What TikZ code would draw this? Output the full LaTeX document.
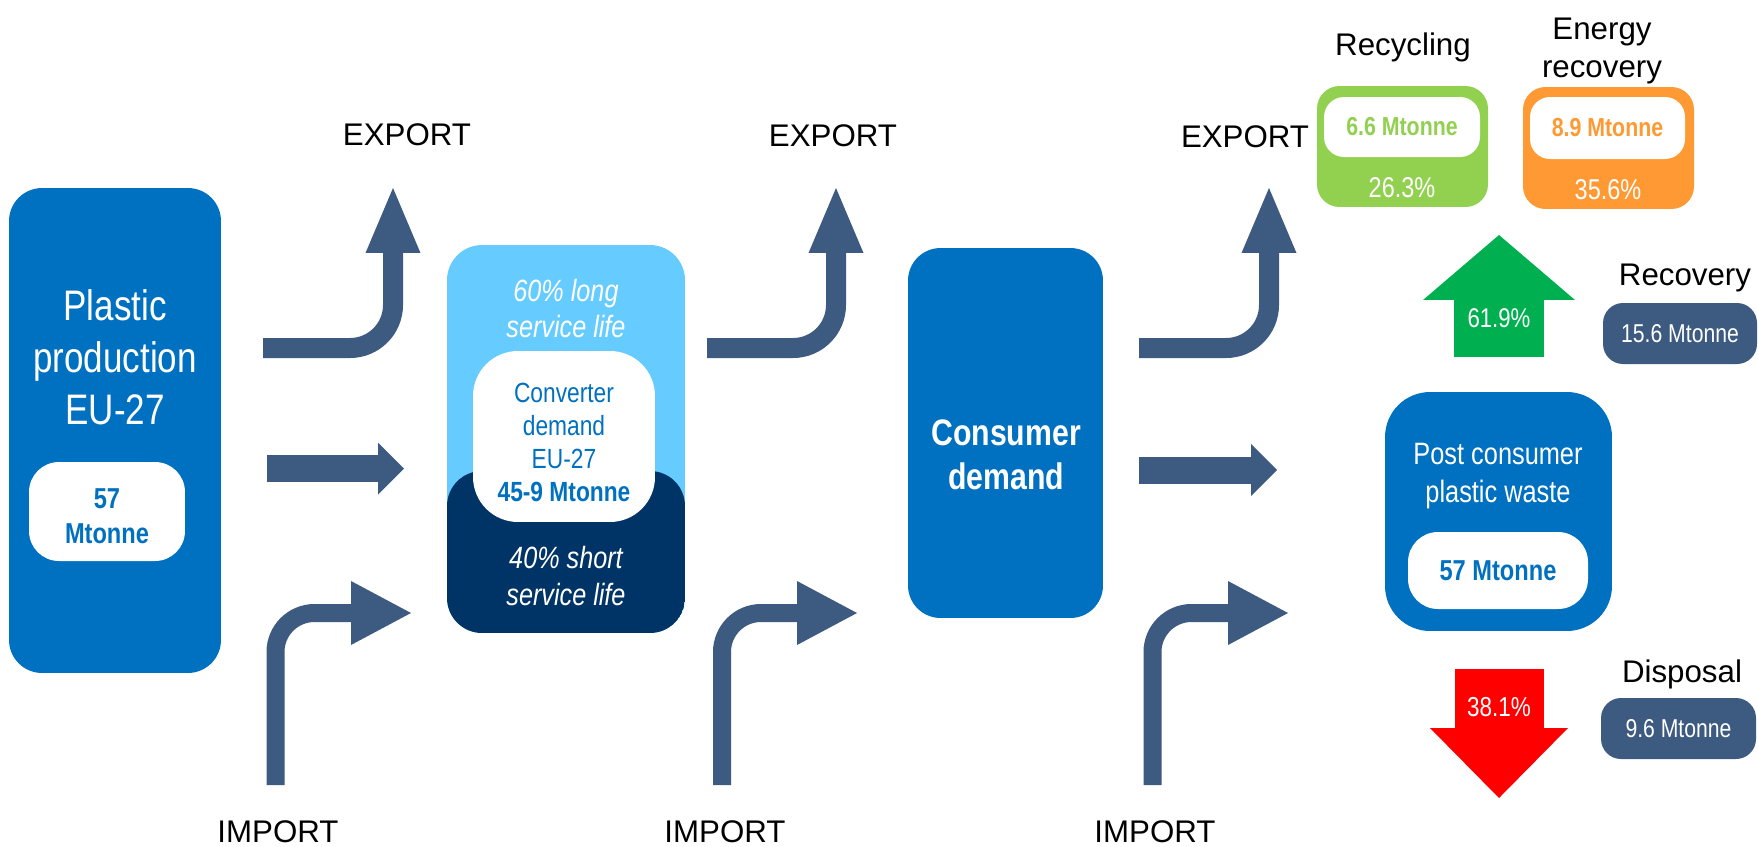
\documentclass[tikz,border=0pt]{standalone}
\usepackage{fontspec}
\setmainfont{Liberation Sans}
\newfontfamily\estreita[FakeStretch=0.82]{Liberation Sans}
\usetikzlibrary{arrows.meta}

\definecolor{azul}{HTML}{0070C0}
\definecolor{celeste}{HTML}{66CCFF}
\definecolor{marinho}{HTML}{003366}
\definecolor{ardosia}{HTML}{3D5B80}
\definecolor{verdeclaro}{HTML}{92D050}
\definecolor{laranja}{HTML}{FF9933}
\definecolor{verde}{HTML}{00B050}
\definecolor{vermelho}{HTML}{FF0000}

\newcommand{\tam}[2]{\fontsize{#1}{#2}\selectfont}

\begin{document}
\begin{tikzpicture}[x=0.02cm,y=-0.02cm,
caixa/.style={rectangle,inner sep=0pt,fill=azul,text=white},
valor/.style={rectangle,inner sep=0pt,fill=white,text=azul},
rotulo/.style={align=center,font={\tam{17.8pt}{21.2pt}}},
texto/.style={text=white,align=center},
exporta/.style={draw=ardosia,line width=0.4cm,rounded corners=0.86cm,
-{Triangle[length=1.3cm,width=1.1cm,line width=0pt]}},
importa/.style={draw=ardosia,line width=0.36cm,rounded corners=0.78cm,
-{Triangle[length=1.2cm,width=1.28cm,line width=0pt]}},
segue/.style={draw=ardosia,line width=0.54cm,
-{Triangle[length=0.52cm,width=1.04cm,line width=0pt]}}
]
\useasboundingbox (0,0) rectangle (1758,846);

% producao
\node[caixa,rounded corners=0.66cm,minimum width=4.24cm,minimum height=9.7cm] (prod) at (115,430.5) {};
\node[texto,font={\estreita\tam{24.3pt}{29.5pt}}] (prodtxt) at (115,357) {Plastic\\production\\EU-27};
\node[valor,rounded corners=0.6cm,minimum width=3.12cm,minimum height=1.98cm] (prodval) at (107,511.5) {};
\node[text=azul,align=center,font={\estreita\bfseries\tam{16.4pt}{19.8pt}}] (prodnum) at (107,516.5) {57\\Mtonne};

% conversores
\node[caixa,fill=celeste,rounded corners=0.7cm,minimum width=4.76cm,minimum height=7.76cm,
path picture={\fill[marinho] ([yshift=3.24cm]path picture bounding box.south west) rectangle (path picture bounding box.south east);}] (conv) at (566,439) {};
\node[texto,font={\estreita\itshape\tam{17.5pt}{21pt}}] (longa) at (566,308.5) {60\% long\\service life};
\node[valor,rounded corners=0.9cm,minimum width=3.64cm,minimum height=3.42cm] (convval) at (564,436.5) {};
\node[text=azul,align=center,font={\estreita\tam{15.8pt}{18.9pt}}] (convtxt) at (564,442.5) {Converter\\demand\\EU-27\\{\bfseries 45-9 Mtonne}};
\node[texto,font={\estreita\itshape\tam{17.5pt}{21pt}}] (curta) at (566,576) {40\% short\\service life};

% consumo
\node[caixa,rounded corners=0.65cm,minimum width=3.9cm,minimum height=7.4cm] (cons) at (1005.5,433) {};
\node[texto,font={\estreita\bfseries\tam{21pt}{25pt}}] (constxt) at (1006,455) {Consumer\\demand};

% residuos
\node[caixa,rounded corners=0.9cm,minimum width=4.54cm,minimum height=4.78cm] (pos) at (1498.5,511.5) {};
\node[texto,font={\estreita\tam{17.6pt}{21.5pt}}] (postxt) at (1498,476) {Post consumer\\plastic waste};
\node[valor,rounded corners=0.6cm,minimum width=3.6cm,minimum height=1.54cm,
font={\estreita\bfseries\tam{16.4pt}{19.8pt}}] (posval) at (1498,570.5) {57 Mtonne};

% reciclagem e energia
\node[caixa,fill=verdeclaro,rounded corners=0.45cm,minimum width=3.42cm,minimum height=2.42cm] (recic) at (1402.5,146.5) {};
\node[valor,text=verdeclaro,rounded corners=0.4cm,minimum width=3.12cm,minimum height=1.2cm,
font={\estreita\bfseries\tam{14.8pt}{17pt}}] (recicval) at (1402,127) {6.6 Mtonne};
\node[texto,font={\estreita\tam{16.3pt}{18pt}}] (recicpct) at (1402,188) {26.3\%};
\node[rotulo] (recictit) at (1403,47) {Recycling};

\node[caixa,fill=laranja,rounded corners=0.45cm,minimum width=3.42cm,minimum height=2.44cm] (ener) at (1608.5,148) {};
\node[valor,text=laranja,rounded corners=0.4cm,minimum width=3.1cm,minimum height=1.24cm,
font={\estreita\bfseries\tam{14.8pt}{17pt}}] (enerval) at (1607.5,128) {8.9 Mtonne};
\node[texto,font={\estreita\tam{16.3pt}{18pt}}] (enerpct) at (1608,190) {35.6\%};
\node[rotulo] (enertit) at (1602,51) {Energy\\recovery};

% recuperacao e descarte
\coordinate (sobebase) at (1499,357);
\coordinate (sobeponta) at (1499,235);
\draw[draw=verde,line width=1.8cm,-{Triangle[length=1.3cm,width=3.04cm,line width=0pt]}] (sobebase) -- (sobeponta);
\node[texto,font={\estreita\tam{15.4pt}{18pt}}] (recpct) at (1499,318) {61.9\%};

\coordinate (descebase) at (1499,669);
\coordinate (desceponta) at (1499,798);
\draw[draw=vermelho,line width=1.78cm,-{Triangle[length=1.4cm,width=2.76cm,line width=0pt]}] (descebase) -- (desceponta);
\node[texto,font={\estreita\tam{15.6pt}{18pt}}] (descpct) at (1499,707) {38.1\%};

\node[rotulo] (rectit) at (1685,278) {Recovery};
\node[caixa,fill=ardosia,rounded corners=0.4cm,minimum width=3.08cm,minimum height=1.22cm,
font={\estreita\tam{14.7pt}{17pt}}] (recval) at (1680,333.5) {15.6 Mtonne};
\node[rotulo] (desctit) at (1682,674) {Disposal};
\node[caixa,fill=ardosia,rounded corners=0.4cm,minimum width=3.1cm,minimum height=1.22cm,
font={\estreita\tam{14.7pt}{17pt}}] (descval) at (1678.5,728.5) {9.6 Mtonne};

% exportacao
\coordinate (saida1) at (263,348); \coordinate (topo1) at (393,188);
\coordinate (saida2) at (707,348); \coordinate (topo2) at (836,188);
\coordinate (saida3) at (1139,348); \coordinate (topo3) at (1269,188);
\draw[exporta] (saida1) -| (topo1);
\draw[exporta] (saida2) -| (topo2);
\draw[exporta] (saida3) -| (topo3);
\node[rotulo] (exp1) at (407,135) {EXPORT};
\node[rotulo] (exp2) at (833,136) {EXPORT};
\node[rotulo] (exp3) at (1245,137) {EXPORT};

% importacao
\coordinate (pe1) at (275.5,785); \coordinate (ponta1) at (411,613);
\coordinate (pe2) at (722,785); \coordinate (ponta2) at (857,613);
\coordinate (pe3) at (1152.5,785); \coordinate (ponta3) at (1288,613);
\draw[importa] (pe1) |- (ponta1);
\draw[importa] (pe2) |- (ponta2);
\draw[importa] (pe3) |- (ponta3);
\node[rotulo] (imp1) at (278,832) {IMPORT};
\node[rotulo] (imp2) at (725,832) {IMPORT};
\node[rotulo] (imp3) at (1155,832) {IMPORT};

% fluxo direto
\coordinate (meio1) at (267,468.5); \coordinate (fim1) at (404,468.5);
\coordinate (meio3) at (1139,470); \coordinate (fim3) at (1277,470);
\draw[segue] (meio1) -- (fim1);
\draw[segue] (meio3) -- (fim3);

\end{tikzpicture}
\end{document}
